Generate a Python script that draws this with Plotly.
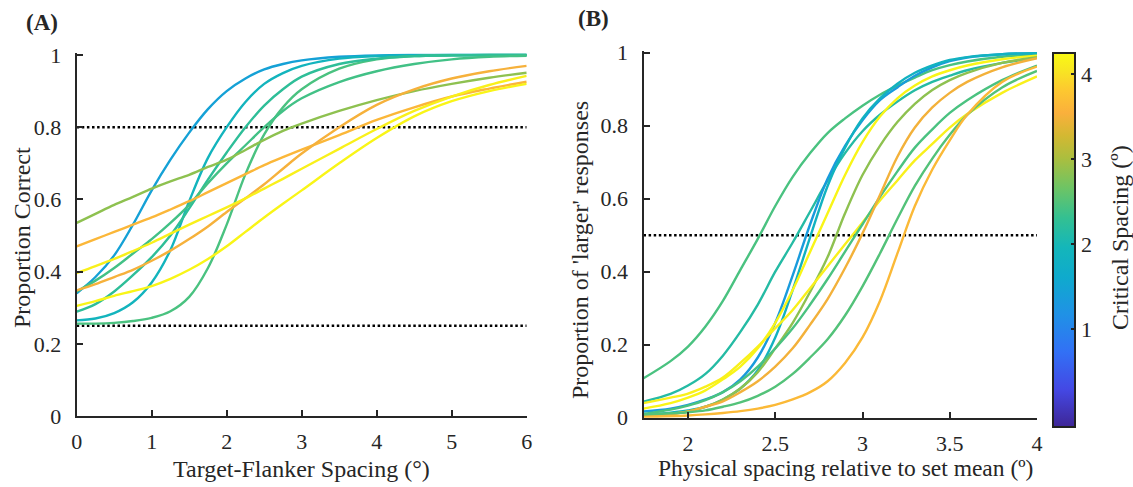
import plotly.graph_objects as go
from plotly.colors import sample_colorscale

# ---------------- Panel A data (Target-Flanker Spacing) ----------------
A_X = [0, 0.25, 0.5, 0.75, 1, 1.25, 1.5, 1.75, 2, 2.25, 2.5, 2.75, 3, 3.5, 4, 4.5, 5, 5.5, 6]
A_BLUE = [0.34, 0.385, 0.445, 0.53, 0.625, 0.71, 0.785, 0.85, 0.90, 0.935, 0.96, 0.975, 0.985, 0.995, 0.999, 1, 1, 1, 1]
A_TEAL = [0.265, 0.27, 0.285, 0.315, 0.37, 0.46, 0.595, 0.715, 0.80, 0.87, 0.92, 0.95, 0.97, 0.99, 0.997, 0.999, 1, 1, 1]
A_GREEN_STEEP = [0.256, 0.256, 0.258, 0.263, 0.272, 0.29, 0.33, 0.41, 0.53, 0.67, 0.78, 0.855, 0.905, 0.962, 0.988, 0.997, 0.999, 1, 1]
A_GREEN_TEAL = [0.289, 0.31, 0.345, 0.39, 0.44, 0.50, 0.575, 0.655, 0.73, 0.80, 0.86, 0.905, 0.94, 0.975, 0.99, 0.997, 0.999, 1, 1]
A_GREEN = [0.345, 0.375, 0.41, 0.45, 0.49, 0.535, 0.585, 0.645, 0.70, 0.75, 0.80, 0.845, 0.88, 0.925, 0.955, 0.975, 0.988, 0.995, 0.998]
A_LIGHTGREEN = [0.535, 0.56, 0.585, 0.607, 0.63, 0.65, 0.668, 0.69, 0.71, 0.737, 0.765, 0.79, 0.81, 0.845, 0.875, 0.90, 0.92, 0.937, 0.951]
A_ORANGE1 = [0.47, 0.49, 0.51, 0.53, 0.55, 0.572, 0.595, 0.62, 0.645, 0.67, 0.695, 0.717, 0.738, 0.778, 0.82, 0.855, 0.885, 0.907, 0.926]
A_ORANGE2 = [0.348, 0.365, 0.385, 0.405, 0.43, 0.458, 0.49, 0.525, 0.565, 0.603, 0.642, 0.685, 0.727, 0.80, 0.862, 0.905, 0.935, 0.955, 0.970]
A_YELLOW1 = [0.396, 0.415, 0.435, 0.457, 0.48, 0.505, 0.53, 0.554, 0.578, 0.603, 0.63, 0.657, 0.685, 0.74, 0.795, 0.845, 0.885, 0.917, 0.942]
A_YELLOW2 = [0.305, 0.318, 0.333, 0.346, 0.36, 0.38, 0.405, 0.435, 0.47, 0.51, 0.55, 0.588, 0.625, 0.70, 0.77, 0.83, 0.872, 0.90, 0.92]
# critical spacing (deg) of each observer -> colour
A_CRIT = [1.45, 1.9, 2.45, 2.25, 2.4, 2.85, 3.62, 3.52, 4.15, 4.2]
A_REF_LEVELS = [0.8, 0.25]

# ---------------- Panel B data (Physical spacing) ----------------
B_X = [1.745, 1.9, 2.0, 2.1, 2.2, 2.3, 2.4, 2.5, 2.6, 2.7, 2.8, 2.9, 3.0, 3.1, 3.2, 3.3, 3.4, 3.5, 3.6, 3.8, 4.0]
B_GREEN_EARLY = [0.108, 0.155, 0.195, 0.25, 0.32, 0.405, 0.49, 0.58, 0.66, 0.725, 0.78, 0.82, 0.855, 0.885, 0.91, 0.932, 0.952, 0.966, 0.976, 0.989, 0.995]
B_TEALGREEN = [0.044, 0.065, 0.088, 0.12, 0.17, 0.235, 0.31, 0.40, 0.48, 0.565, 0.65, 0.725, 0.785, 0.83, 0.866, 0.897, 0.92, 0.937, 0.952, 0.972, 0.986]
B_BLUE = [0.017, 0.025, 0.035, 0.05, 0.07, 0.105, 0.165, 0.26, 0.39, 0.53, 0.655, 0.745, 0.815, 0.87, 0.905, 0.937, 0.96, 0.977, 0.987, 0.996, 0.999]
B_CYAN = [0.008, 0.014, 0.02, 0.03, 0.05, 0.08, 0.13, 0.22, 0.35, 0.495, 0.635, 0.74, 0.82, 0.875, 0.915, 0.945, 0.965, 0.98, 0.988, 0.996, 0.999]
B_YELLOW1 = [0.025, 0.04, 0.055, 0.075, 0.105, 0.14, 0.19, 0.26, 0.35, 0.455, 0.56, 0.665, 0.755, 0.825, 0.875, 0.91, 0.935, 0.952, 0.965, 0.982, 0.992]
B_OLIVE = [0.005, 0.01, 0.017, 0.03, 0.05, 0.08, 0.125, 0.19, 0.26, 0.345, 0.44, 0.56, 0.665, 0.745, 0.81, 0.86, 0.898, 0.925, 0.945, 0.972, 0.988]
B_YELLOW2 = [0.04, 0.055, 0.066, 0.085, 0.11, 0.15, 0.195, 0.245, 0.295, 0.355, 0.415, 0.475, 0.535, 0.595, 0.65, 0.705, 0.75, 0.795, 0.832, 0.89, 0.935]
B_GREEN2 = [0.01, 0.022, 0.033, 0.048, 0.07, 0.10, 0.14, 0.19, 0.245, 0.31, 0.38, 0.455, 0.53, 0.605, 0.675, 0.74, 0.79, 0.835, 0.87, 0.925, 0.965]
B_ORANGE1 = [0.005, 0.01, 0.017, 0.03, 0.045, 0.07, 0.10, 0.14, 0.19, 0.255, 0.325, 0.41, 0.505, 0.61, 0.715, 0.795, 0.85, 0.89, 0.92, 0.96, 0.985]
B_GREEN3 = [0.008, 0.012, 0.015, 0.02, 0.03, 0.042, 0.06, 0.085, 0.12, 0.165, 0.215, 0.28, 0.36, 0.45, 0.545, 0.635, 0.71, 0.775, 0.83, 0.905, 0.95]
B_ORANGE2 = [0.002, 0.004, 0.006, 0.009, 0.013, 0.018, 0.025, 0.035, 0.05, 0.07, 0.10, 0.15, 0.22, 0.32, 0.45, 0.58, 0.68, 0.76, 0.83, 0.92, 0.962]
B_CRIT = [2.45, 2.15, 1.35, 1.85, 4.2, 2.85, 4.15, 2.45, 3.5, 2.5, 3.65]
B_REF_LEVELS = [0.5]

# ---------------- axes / colour bar ----------------
A_XTICKS = [0, 1, 2, 3, 4, 5, 6]
B_XTICKS = [2, 2.5, 3, 3.5, 4]
Y_TICKS = [0, 0.2, 0.4, 0.6, 0.8, 1]
Y_TICKTEXT = ["0", "0.2", "0.4", "0.6", "0.8", "1"]
CB_TICKS = [1, 2, 3, 4]
CMIN, CMAX = -0.15, 4.25

PARULA = [[0.00, 'rgb(62,38,150)'], [0.10, 'rgb(68,72,228)'], [0.20, 'rgb(50,112,245)'],
          [0.30, 'rgb(32,145,230)'], [0.40, 'rgb(15,170,205)'], [0.48, 'rgb(20,182,186)'],
          [0.56, 'rgb(52,192,145)'], [0.64, 'rgb(110,196,100)'], [0.72, 'rgb(172,190,62)'],
          [0.78, 'rgb(212,184,50)'], [0.84, 'rgb(250,176,60)'], [0.90, 'rgb(253,200,48)'],
          [0.95, 'rgb(248,228,35)'], [1.00, 'rgb(249,250,20)']]


def crit_color(v):
    return sample_colorscale(PARULA, [(v - CMIN) / (CMAX - CMIN)])[0]


W, H = 1133, 487
def fx(p):
    return p / W
def fy(p):
    return 1 - p / H

TXT = '#262626'
FONT = "Liberation Serif, Times New Roman, serif"
TICK_SIZE = 22
TITLE_SIZE = 24

fig = go.Figure()

A_SERIES = [A_BLUE, A_TEAL, A_GREEN_STEEP, A_GREEN_TEAL, A_GREEN, A_LIGHTGREEN,
            A_ORANGE1, A_ORANGE2, A_YELLOW1, A_YELLOW2]
B_SERIES = [B_GREEN_EARLY, B_TEALGREEN, B_BLUE, B_CYAN, B_YELLOW1, B_OLIVE,
            B_YELLOW2, B_GREEN2, B_ORANGE1, B_GREEN3, B_ORANGE2]

for lvl in A_REF_LEVELS:
    fig.add_trace(go.Scatter(x=[A_X[0], A_X[-1]], y=[lvl, lvl], mode='lines',
                             line=dict(color='black', width=2.4, dash='2.5px,2.6px'),
                             xaxis='x', yaxis='y', showlegend=False, hoverinfo='skip'))
for ys, c in zip(A_SERIES, A_CRIT):
    fig.add_trace(go.Scatter(x=A_X, y=ys, mode='lines',
                             line=dict(color=crit_color(c), width=2.4, shape='spline', smoothing=1),
                             xaxis='x', yaxis='y', showlegend=False))

for lvl in B_REF_LEVELS:
    fig.add_trace(go.Scatter(x=[B_X[0], B_X[-1]], y=[lvl, lvl], mode='lines',
                             line=dict(color='black', width=2.4, dash='2.5px,2.6px'),
                             xaxis='x2', yaxis='y2', showlegend=False, hoverinfo='skip'))
for ys, c in zip(B_SERIES, B_CRIT):
    fig.add_trace(go.Scatter(x=B_X, y=ys, mode='lines',
                             line=dict(color=crit_color(c), width=2.4, shape='spline', smoothing=1),
                             xaxis='x2', yaxis='y2', showlegend=False))

# colour bar carrier (point outside visible range)
fig.add_trace(go.Scatter(
    x=[B_X[0]], y=[-5], mode='markers', xaxis='x2', yaxis='y2', showlegend=False,
    hoverinfo='skip',
    marker=dict(size=1, color=[CMIN], colorscale=PARULA, cmin=CMIN, cmax=CMAX, showscale=True,
                colorbar=dict(x=fx(1053), xanchor='left', xpad=0, ypad=0, thickness=22,
                              lenmode='pixels', len=374, y=fy(240), yanchor='middle',
                              outlinewidth=2, outlinecolor='#222222',
                              tickvals=CB_TICKS, ticks='inside', ticklen=5, tickwidth=2,
                              tickcolor='#222222',
                              tickfont=dict(family=FONT, size=TICK_SIZE, color=TXT)))))

axis_common = dict(showgrid=False, zeroline=False, showline=True, linecolor=TXT, linewidth=2,
                   ticks='inside', ticklen=6, tickwidth=2, tickcolor=TXT, mirror=False,
                   automargin=False,
                   tickfont=dict(family=FONT, size=TICK_SIZE, color=TXT))
x_common = dict(ticklabelstandoff=5, **axis_common)
y_common = dict(ticklabelstandoff=9, **axis_common)


def note(text, x, y, angle=0, size=TITLE_SIZE, anchor='center'):
    return dict(text=text, x=fx(x), y=fy(y), xref='paper', yref='paper', xanchor=anchor,
                yanchor='middle', textangle=angle, showarrow=False,
                font=dict(family=FONT, size=size, color=TXT))


fig.update_layout(
    width=W, height=H, margin=dict(l=0, r=0, t=0, b=0, autoexpand=False),
    paper_bgcolor='white', plot_bgcolor='white',
    font=dict(family=FONT, color=TXT),
    xaxis=dict(domain=[fx(76.7), fx(526.7)], range=[0, 6], tickvals=A_XTICKS, anchor='y', **x_common),
    yaxis=dict(domain=[fy(416), fy(53.2)], range=[0, 1.005], tickvals=Y_TICKS, ticktext=Y_TICKTEXT,
               anchor='x', **y_common),
    xaxis2=dict(domain=[fx(643.5), fx(1037)], range=[1.745, 4.0], tickvals=B_XTICKS, anchor='y2',
                **x_common),
    yaxis2=dict(domain=[fy(417.7), fy(50.9)], range=[0, 1.005], tickvals=Y_TICKS, ticktext=Y_TICKTEXT,
                anchor='x2', **y_common),
    annotations=[
        note('<b>(A)</b>', 24, 22, size=23, anchor='left'),
        note('<b>(B)</b>', 576, 19, size=23, anchor='left'),
        note('Proportion Correct', 22, 238, angle=-90),
        note("Proportion of 'larger' responses", 580, 250, angle=-90),
        note('Target-Flanker Spacing (°)', 301, 469),
        note('Physical spacing relative to set mean (º)', 845, 468, size=23.5),
        note('Critical Spacing (º)', 1120, 238, angle=-90),
    ],
)

fig.write_html("out.html", config={'displayModeBar': False},
               post_script="document.body.style.margin='0';document.body.style.overflow='hidden';")
